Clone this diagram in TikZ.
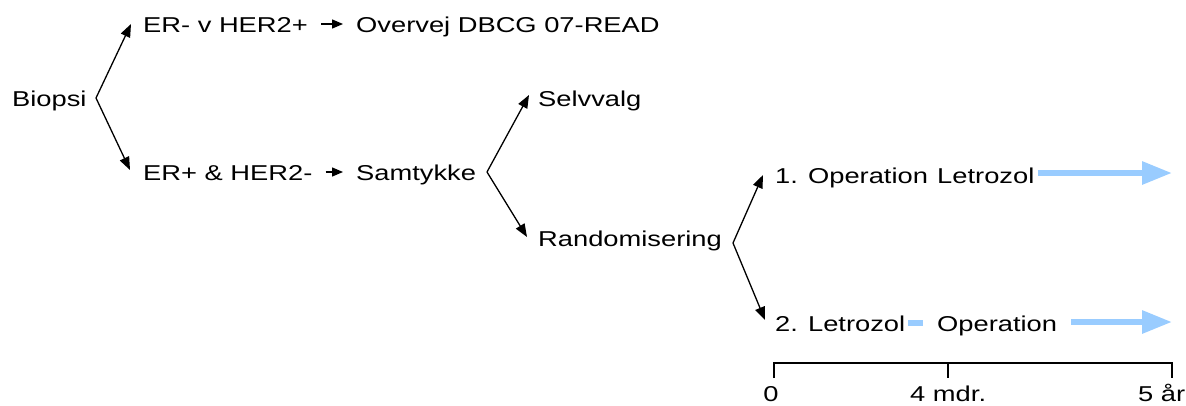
\documentclass[tikz,border=0pt]{standalone}
\usepackage{fontspec}
\setmainfont[FakeStretch=1.27]{Liberation Sans}
\usetikzlibrary{arrows.meta}
\definecolor{lblue}{HTML}{99CCFF}
\begin{document}
\begin{tikzpicture}[x=1pt,y=-1pt,
  lbl/.style={anchor=base west,inner sep=0pt,font=\fontsize{21.5}{25}\selectfont},
  lblc/.style={anchor=base,inner sep=0pt,font=\fontsize{21.5}{25}\selectfont},
  barr/.style={line width=1.3pt,-{Triangle[length=13pt,width=10pt]}},
  sarr/.style={line width=1.3pt,-{Triangle[length=11pt,width=9pt]}},
  blarr/.style={draw=lblue,line width=6pt,-{Triangle[length=30pt,width=22pt,fill=lblue]}},
  bldash/.style={draw=lblue,line width=6pt},
  axis/.style={line width=1.2pt}]
\useasboundingbox (0,0) rectangle (1186,405);
% text nodes
\node[lbl] (biopsi) at (12,106) {Biopsi};
\node[lbl] (erneg) at (143,32) {ER- v HER2+};
\node[lbl] (overvej) at (356,32) {Overvej DBCG 07-READ};
\node[lbl] (erpos) at (143,180) {ER+ \& HER2-};
\node[lbl] (samtykke) at (356,180) {Samtykke};
\node[lbl] (selvvalg) at (538,106) {Selvvalg};
\node[lbl] (random) at (538,246) {Randomisering};
\node[lbl] (op1) at (775,183) {1. Operation};
\node[lbl] (letr1) at (937,183) {Letrozol};
\node[lbl] (letr2) at (775,331) {2. Letrozol};
\node[lbl] (op2) at (937,331) {Operation};
\node[lblc] (t0) at (771,401) {0};
\node[lbl] (t4) at (910,401) {4 mdr.};
\node[lbl] (t5) at (1138,401) {5 år};
% branch coordinates
\coordinate (v1) at (96,98);
\coordinate (t1a) at (131,24);
\coordinate (t1b) at (130,170);
\coordinate (v2) at (487,172);
\coordinate (t2a) at (529,95);
\coordinate (t2b) at (527,237);
\coordinate (v3) at (733,243);
\coordinate (t3a) at (763,175);
\coordinate (t3b) at (765,320);
\draw[barr] (v1) -- (t1a);
\draw[barr] (v1) -- (t1b);
\draw[barr] (v2) -- (t2a);
\draw[barr] (v2) -- (t2b);
\draw[barr] (v3) -- (t3a);
\draw[barr] (v3) -- (t3b);
% small arrows
\draw[sarr] ([shift={(13,-8)}]erneg.base east) -- ([shift={(-13,-8)}]overvej.base west);
\draw[sarr] ([shift={(13,-8)}]erpos.base east) -- ([shift={(-13,-8)}]samtykke.base west);
% blue arrows
\coordinate (e1) at (1172,173);
\coordinate (e2) at (1172,322);
\draw[blarr] ([shift={(3,-10)}]letr1.base east) -- (e1);
\draw[bldash] ([shift={(3,-8)}]letr2.base east) -- ([shift={(-14,-8)}]op2.base west);
\draw[blarr] ([shift={(14,-9)}]op2.base east) -- (e2);
% timeline
\coordinate (a0) at (774,363);
\coordinate (a4) at (948,363);
\coordinate (a5) at (1172,363);
\draw[axis] ([yshift=-15]a0) -- (a0) -- (a5) -- ([yshift=-15]a5);
\draw[axis] (a4) -- ([yshift=-15]a4);
\end{tikzpicture}
\end{document}
